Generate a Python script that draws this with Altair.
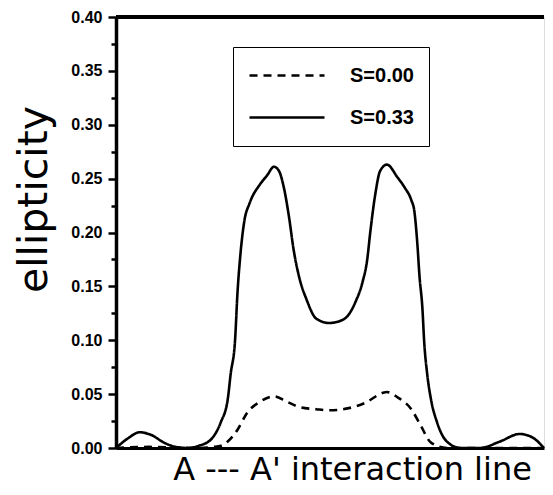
import altair as alt
import pandas as pd

# Position along the A --- A' interaction line (0..100, arbitrary units)
x_s033 = [0.0, 2.8, 5.5, 8.3, 11.2, 14.0, 17.0, 19.3, 22.2, 24.5, 26.1, 26.8, 27.8, 28.4,
          29.1, 30.0, 31.2, 33.7, 35.3, 36.9, 38.1, 39.2, 40.4, 41.5, 42.9, 44.5, 46.8,
          49.8, 53.0, 54.4, 56.0, 57.6, 58.7, 59.4, 60.6, 61.7, 63.3, 65.8, 67.4, 69.0,
          69.7, 70.4, 70.9, 71.6, 72.0, 72.7, 73.6, 75.0, 77.3, 80.5, 85.1, 89.7, 94.3,
          97.2, 100.0]
y_s033 = [0.000, 0.009, 0.0146, 0.012, 0.005, 0.001, 0.000, 0.002, 0.008, 0.024, 0.045,
          0.069, 0.099, 0.145, 0.181, 0.211, 0.227, 0.245, 0.253, 0.261, 0.257, 0.242,
          0.215, 0.184, 0.157, 0.138, 0.120, 0.116, 0.119, 0.124, 0.136, 0.154, 0.175,
          0.200, 0.236, 0.257, 0.263, 0.251, 0.242, 0.230, 0.220, 0.190, 0.160, 0.129,
          0.099, 0.069, 0.045, 0.024, 0.006, 0.000, 0.000, 0.006, 0.013, 0.010, 0.000]

x_s000 = [0.0, 7.8, 19.3, 22.7, 24.5, 26.1, 28.4, 30.7, 33.7, 36.9, 39.9, 42.9, 46.8,
          49.8, 54.4, 58.3, 62.2, 63.3, 65.8, 69.0, 71.3, 73.6, 77.3, 100.0]
y_s000 = [0.000, 0.001, 0.000, 0.001, 0.002, 0.006, 0.017, 0.033, 0.043, 0.048, 0.043,
          0.038, 0.036, 0.035, 0.037, 0.042, 0.051, 0.052, 0.047, 0.036, 0.020, 0.005,
          0.000, 0.000]

series_names = ["S=0.00", "S=0.33"]

major_ticks = [0.00, 0.05, 0.10, 0.15, 0.20, 0.25, 0.30, 0.35, 0.40]
minor_ticks = [0.025, 0.075, 0.125, 0.175, 0.225, 0.275, 0.325, 0.375]

df = pd.concat([
    pd.DataFrame({"pos": x_s000, "ell": y_s000, "series": series_names[0]}),
    pd.DataFrame({"pos": x_s033, "ell": y_s033, "series": series_names[1]}),
])

FONT = "Liberation Sans"
TITLE_FONT = "DejaVu Sans"

x_scale = alt.Scale(domain=[0, 100], nice=False, zero=False)
y_scale = alt.Scale(domain=[0, 0.40], nice=False)

lines = alt.Chart(df).mark_line(color="black", strokeWidth=2.6, interpolate="monotone").encode(
    x=alt.X("pos:Q", scale=x_scale,
            axis=alt.Axis(title="A --- A' interaction line", labels=False, ticks=False,
                          grid=False, domainColor="black", domainWidth=3,
                          titleFont=TITLE_FONT, titleFontSize=32, titleFontWeight="normal",
                          titleColor="black", titleX=236, titleY=38,
                          titleBaseline="bottom", titleAlign="center")),
    y=alt.Y("ell:Q", scale=y_scale,
            axis=alt.Axis(title="ellipticity", values=major_ticks, format=".2f",
                          orient="left", tickSize=8,
                          tickWidth=2.5, tickColor="black", domainColor="black", domainWidth=3.5,
                          labelFont=FONT, labelFontSize=16, labelFontWeight="bold",
                          labelColor="black", labelPadding=6, grid=False,
                          titleFont=TITLE_FONT, titleFontSize=41, titleFontWeight="normal",
                          titleColor="black", titleX=-82, titleY=182, titleAngle=270,
                          titleBaseline="middle", titleAlign="center")),
    strokeDash=alt.StrokeDash("series:N",
                              scale=alt.Scale(domain=series_names, range=[[8, 6], [1, 0]]),
                              legend=alt.Legend(title=None, orient="none", legendX=117, legendY=30,
                                                padding=15, strokeColor="black",
                                                symbolType="stroke", symbolSize=5625,
                                                symbolStrokeWidth=2.5, symbolStrokeColor="black",
                                                labelFont=FONT, labelFontSize=20,
                                                labelFontWeight="bold", labelColor="black",
                                                labelOffset=24, clipHeight=27, rowPadding=15)),
)

minor = alt.Chart(pd.DataFrame({"tick": minor_ticks})).mark_point(opacity=0).encode(
    y=alt.Y("tick:Q", scale=y_scale,
            axis=alt.Axis(orient="left", values=minor_ticks, labels=False, domain=False,
                          grid=False, title=None, tickSize=5, tickWidth=2.5,
                          tickColor="black"))
)

top_border = alt.Chart(df).mark_rule(color="black", strokeWidth=3).encode(
    y=alt.datum(0.40, scale=y_scale, axis=None)
)

chart = alt.layer(lines, minor, top_border).resolve_axis(y="independent").properties(
    width=428, height=431,
    autosize=alt.AutoSizeParams(type="none"),
    padding={"left": 108, "top": 9, "right": 1, "bottom": 39},
).configure_view(stroke="#999999", strokeWidth=1).configure_legend(
    strokeWidth=2.5
).configure(background="white")

chart.save("out.html", embed_options={"renderer": "svg", "actions": False})
